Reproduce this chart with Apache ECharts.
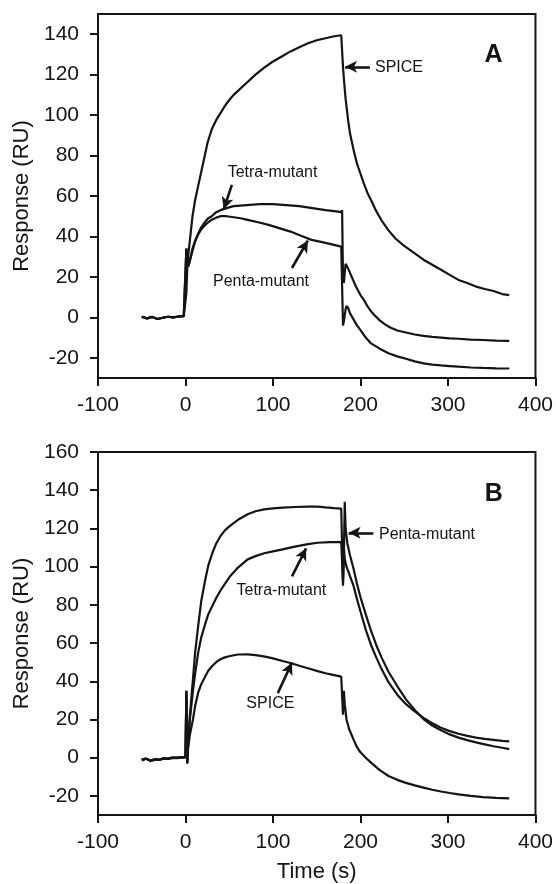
<!DOCTYPE html>
<html>
<head>
<meta charset="utf-8">
<script src="https://cdn.jsdelivr.net/npm/echarts@6/dist/echarts.min.js"></script>
<style>
html,body{margin:0;padding:0;background:#fff;}
#c{width:556px;height:884px;}
</style>
</head>
<body>
<div id="c"></div>
<script>
// ---------- data (time s, response RU) ----------
const xTicks = [-100, 0, 100, 200, 300, 400];
const yTicksA = [-20, 0, 20, 40, 60, 80, 100, 120, 140];
const yTicksB = [-20, 0, 20, 40, 60, 80, 100, 120, 140, 160];

// Panel A
const spiceA = [[-50,0.3],[-44,-0.5],[-38,0.2],[-32,-0.8],[-26,-0.2],[-20,0.3],[-14,0],[-8,0.4],[-2,0.6],[0,0.8],
 [1,12],[2,24],[3,30],[5,38],[8,50],[11,58],[14.5,65],[20,76],[25,86],[30,93],[35,97.5],[40,101],[45,104.5],[50,107.5],
 [55,110],[60,112],[65,114],[70,116],[80,120],[90,123.5],[100,126.5],[110,129],[120,131.5],[130,133.5],[140,135.5],
 [150,137],[160,138],[170,139],[178,139.5],[179,140],[180,124],[181,118],[183,108],[186,97],[188,91],[192,83],[196,76],
 [200,71],[204,66],[208,61.5],[212,58],[218,52.5],[224,48],[232,43],[240,39],[248,36],[256,33.5],[264,31],[272,28.5],
 [282,26],[292,23.5],[302,21],[312,18.5],[322,17],[332,15.2],[342,14],[352,13],[362,11.5],[370,11]];
const tetraA = [[-50,0.3],[-44,-0.5],[-38,0.2],[-32,-0.8],[-26,-0.2],[-20,0.3],[-14,0],[-8,0.4],[-2,0.6],[0,0.5],
 [1,34],[2,30],[3,25],[5,28],[8,33],[11,37.5],[14.5,41.5],[18,44.5],[22,47],[26,49],[30,50],[35,52],[40,53],[47,54],
 [55,55],[70,55.5],[85,56],[100,56],[115,55.5],[130,55],[145,54],[160,53],[170,52.5],[178,52],[179,53],[180,20],[181,17],
 [182,22],[183,26.5],[184,26],[186,24],[188,22],[190,20],[195,15],[200,11],[204,8.5],[208,5.5],[212,3],[216,1],
 [222,-1.5],[228,-3.5],[234,-5],[242,-6.5],[252,-7.5],[262,-8.5],[272,-9.2],[282,-9.7],[292,-10],[302,-10.4],
 [312,-10.6],[326,-11],[340,-11.2],[355,-11.5],[370,-11.6]];
const pentaA = [[-50,0.3],[-44,-0.5],[-38,0.2],[-32,-0.8],[-26,-0.2],[-20,0.3],[-14,0],[-8,0.4],[-2,0.6],[0,0.5],
 [1,34],[2,30],[3,25],[5,28],[8,34],[11,38],[14.5,41],[18,43.5],[22,45.5],[26,47],[30,48.3],[35,49.3],[40,50],[47,50],
 [55,49.5],[63,49],[71,48.2],[83,47],[95,45.7],[108,44],[120,42.4],[132,40.3],[144,38.3],[155,37.3],[165,36.3],[178,35],
 [179,35.5],[180,-4],[181,-2],[183,4],[184,5.6],[186,4.5],[188,2],[192,-1],[196,-4],[200,-6.3],[206,-10],[212,-12.9],
 [222,-15.5],[232,-17.8],[242,-19.3],[252,-20.5],[262,-21.8],[272,-22.8],[282,-23.4],[292,-23.8],[302,-24.1],
 [312,-24.4],[326,-24.8],[340,-25],[355,-25.2],[370,-25.3]];

// Panel B
const pentaB = [[-50,-1],[-45,-0.5],[-40,-1.5],[-35,-0.8],[-30,-1],[-25,-0.3],[-20,-0.5],[-15,0],[-10,0],[-5,0.2],[0,0.3],
 [1,35],[2,-3],[3,8],[5,22],[8.5,41],[11,55],[14.5,69],[18,82],[22.5,93],[26,100.5],[30.6,107],[35,112],[40,116],[45,119],
 [50.8,121.3],[60,124.5],[71,127.4],[80,129],[90,130],[100,130.5],[111,130.9],[125,131.2],[140,131.4],[151,131.4],
 [160,131],[170,130.6],[178,130.4],[180,90],[181,105],[182,134],[183,120],[185,112],[188,106],[192,99],[196,91],
 [200,84],[206,75],[212,66.5],[218,59],[224,52.5],[232,45],[242,37.5],[252,30.5],[262,25],[272,20.2],[282,16.8],[292,14.3],
 [302,12.2],[312,10.5],[322,9.2],[332,8],[342,7],[352,6],[362,5.2],[370,4.5]];
const tetraB = [[-50,-1],[-45,-0.5],[-40,-1.5],[-35,-0.8],[-30,-1],[-25,-0.3],[-20,-0.5],[-15,0],[-10,0],[-5,0.2],[0,0.3],
 [1,33],[2,-2],[3,8],[5,20],[8.5,35],[11,44],[14.5,55],[18,63],[22.5,70],[26,75],[30.6,79.4],[35,83.5],[40,87.5],[45,91],
 [51,95],[60,99.5],[71,103.8],[80,105.5],[90,107],[100,108],[111,109],[125,110.5],[140,111.8],[151,112.5],[165,112.8],
 [178,112.9],[179,113],[180,92],[181,110],[182,104],[184,100],[188,95],[192,90],[196,83],[200,76.5],[206,67],[212,59],
 [218,52.5],[224,46.5],[232,39.5],[242,33],[252,28],[262,24.2],[272,20.8],[282,18],[292,15.7],[302,13.9],[312,12.5],
 [322,11.4],[332,10.5],[342,9.8],[352,9.3],[362,8.8],[370,8.5]];
const spiceB = [[-50,-1.5],[-45,-0.5],[-40,-1.8],[-35,-1],[-30,-1.2],[-25,-0.5],[-20,-0.7],[-15,-0.3],[-10,-0.2],[-5,0],[0,0.2],
 [1,35],[2,-3],[3,5],[5,12],[8.5,20],[11,27],[14.5,34],[18,38.5],[22.5,42.5],[26,45.5],[30.6,48],[35,50],[40,51.5],[45,52.5],
 [51,53.2],[60,54],[71,54.1],[80,53.7],[91,52.9],[100,52],[111,50.6],[121,49.4],[131,48],[141,46.7],[151,45.3],[160,44.2],
 [170,43.2],[178,42.4],[179,43],[180,22.5],[181,35],[182,28],[184,20],[187,15],[192,9.6],[196,5.5],[200,2.8],[206,0],
 [212,-2.6],[222,-6.5],[232,-9.6],[242,-11.6],[252,-13.2],[262,-14.5],[272,-15.7],[282,-16.8],[292,-17.7],[302,-18.5],
 [312,-19.2],[326,-20],[340,-20.6],[355,-21],[370,-21.3]];

// annotation texts and arrow anchors (data coordinates)
const labelsA = [['SPICE', 244, 123.4], ['Tetra-mutant', 99.5, 71.6], ['Penta-mutant', 86.3, 17.8]];
const arrowsA = [[[210.7,123.9],[182.4,123.9]], [[53,65.5],[43.7,53.5]], [[121.7,24.4],[139.9,38]]];
const labelsB = [['Penta-mutant', 276, 117], ['Tetra-mutant', 109.6, 87.6], ['SPICE', 97, 28.1]];
const arrowsB = [[[214.7,117.7],[186.4,117.7]], [[121.7,94.9],[137.9,109.6]], [[105.5,33.8],[121.7,49.8]]];
const panelLetters = [['A', 352, 129.6], ['B', 352.2, 137.9]];

// ---------- chart ----------
const FONT = '"Liberation Sans", Arial, sans-serif';
const INK = '#141414';
const chart = echarts.init(document.getElementById('c'), null, {renderer: 'canvas'});

function xAxis(gi) {
  return {
    type: 'value', gridIndex: gi, min: -100, max: 400, interval: 100,
    name: gi === 1 ? 'Time (s)' : '', nameLocation: 'middle', nameGap: 46,
    nameTextStyle: {fontFamily: FONT, fontSize: 22, color: INK},
    axisLine: {show: true, onZero: false, lineStyle: {color: INK, width: 2}},
    axisTick: {show: true, inside: false, length: 8, lineStyle: {color: INK, width: 2}, customValues: xTicks},
    axisLabel: {fontFamily: FONT, fontSize: 21, color: INK, margin: 17, customValues: xTicks,
      showMinLabel: true, showMaxLabel: true},
    splitLine: {show: false}
  };
}
function yAxis(gi, max, ticks) {
  return {
    type: 'value', gridIndex: gi, min: -30, max: max,
    name: 'Response (RU)', nameLocation: 'middle', nameGap: 62, nameRotate: 90,
    nameTextStyle: {fontFamily: FONT, fontSize: 22, color: INK},
    axisLine: {show: true, onZero: false, lineStyle: {color: INK, width: 2}},
    axisTick: {show: true, inside: false, length: 8, lineStyle: {color: INK, width: 2}, customValues: ticks},
    axisLabel: {fontFamily: FONT, fontSize: 21, color: INK, margin: 19, customValues: ticks},
    splitLine: {show: false}
  };
}
function curve(data, gi) {
  return {
    type: 'line', xAxisIndex: gi, yAxisIndex: gi, data: data,
    symbol: 'none', showSymbol: false, smooth: false, silent: true,
    lineStyle: {color: INK, width: 2.2}
  };
}
function annot(gi, labels, arrows, letter) {
  const pts = labels.map(l => ({
    coord: [l[1], l[2]], symbol: 'circle', symbolSize: 0,
    label: {show: true, position: 'inside', formatter: l[0], fontFamily: FONT, fontSize: 16, color: INK}
  }));
  pts.push({
    coord: [letter[1], letter[2]], symbol: 'circle', symbolSize: 0,
    label: {show: true, position: 'inside', formatter: letter[0], fontFamily: FONT, fontSize: 25, fontWeight: 'bold', color: INK}
  });
  return {
    type: 'line', xAxisIndex: gi, yAxisIndex: gi, data: [], silent: true, symbol: 'none',
    markPoint: {silent: true, animation: false, data: pts},
    markLine: {
      silent: true, animation: false, symbol: ['none', 'arrow'], symbolSize: [9, 12],
      label: {show: false},
      lineStyle: {color: INK, width: 2.6, type: 'solid'},
      data: arrows.map(a => [{coord: a[0]}, {coord: a[1]}])
    }
  };
}

chart.setOption({
  animation: false,
  backgroundColor: '#fff',
  grid: [
    {left: 98, right: 19, top: 14, height: 364, show: true, borderColor: INK, borderWidth: 2, backgroundColor: 'transparent'},
    {left: 98, right: 19, top: 452, height: 365, show: true, borderColor: INK, borderWidth: 2, backgroundColor: 'transparent'}
  ],
  xAxis: [xAxis(0), xAxis(1)],
  yAxis: [yAxis(0, 150, yTicksA), yAxis(1, 160, yTicksB)],
  series: [
    curve(spiceA, 0), curve(tetraA, 0), curve(pentaA, 0),
    curve(pentaB, 1), curve(tetraB, 1), curve(spiceB, 1),
    annot(0, labelsA, arrowsA, panelLetters[0]),
    annot(1, labelsB, arrowsB, panelLetters[1])
  ]
});
</script>
</body>
</html>
